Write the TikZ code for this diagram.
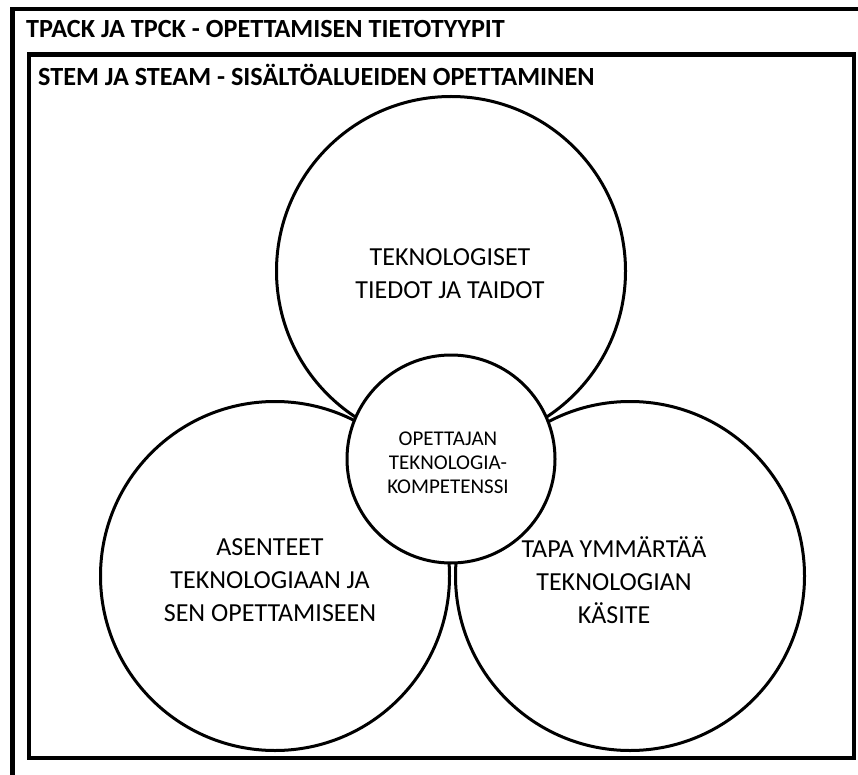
\documentclass[tikz,border=0pt]{standalone}
\usepackage{fontspec}
\setmainfont{Carlito}
\begin{document}
\begin{tikzpicture}[x=1pt,y=-1pt,
  frame/.style={draw=black,line width=4.5pt},
  title/.style={anchor=base west,inner sep=0pt,font=\fontsize{26.2}{30}\selectfont\bfseries},
  ring/.style={circle,draw=black,line width=3pt,inner sep=0pt,minimum size=#1},
  ringtext/.style={align=center,inner sep=0pt,font=\fontsize{26}{33}\selectfont},
  coretext/.style={align=center,inner sep=0pt,font=\fontsize{21}{24}\selectfont}]
  \useasboundingbox (0,0) rectangle (858,775);
  \clip (0,0) rectangle (858,775);
  % outer frame (runs past the right and bottom edges)
  \draw[frame] (12.5,9) rectangle (900,820);
  \node[title] (outer) at (26,38) {TPACK JA TPCK - OPETTAMISEN TIETOTYYPIT};
  % inner frame
  \draw[frame] (29,54.5) rectangle (854,758);
  \node[title] (inner) at (38,86) {STEM JA STEAM - SISÄLTÖALUEIDEN OPETTAMINEN};
  % three touching circles
  \node[ring=349pt] (top)   at (451,271) {};
  \node[ring=349pt] (left)  at (275,576) {};
  \node[ring=349pt] (right) at (630,576) {};
  % core circle on top
  \node[ring=208pt,fill=white] (core) at (451,459) {};
  \node[ringtext] (toptext) at (450,274) {TEKNOLOGISET\\TIEDOT JA TAIDOT};
  \node[ringtext] (lefttext) at (270,580) {ASENTEET\\TEKNOLOGIAAN JA\\SEN OPETTAMISEEN};
  \node[ringtext] (righttext) at (614,580) {TAPA YMMÄRTÄÄ\\TEKNOLOGIAN\\KÄSITE};
  \node[coretext] (coretxt) at (448,463) {OPETTAJAN\\TEKNOLOGIA-\\KOMPETENSSI};
\end{tikzpicture}
\end{document}
